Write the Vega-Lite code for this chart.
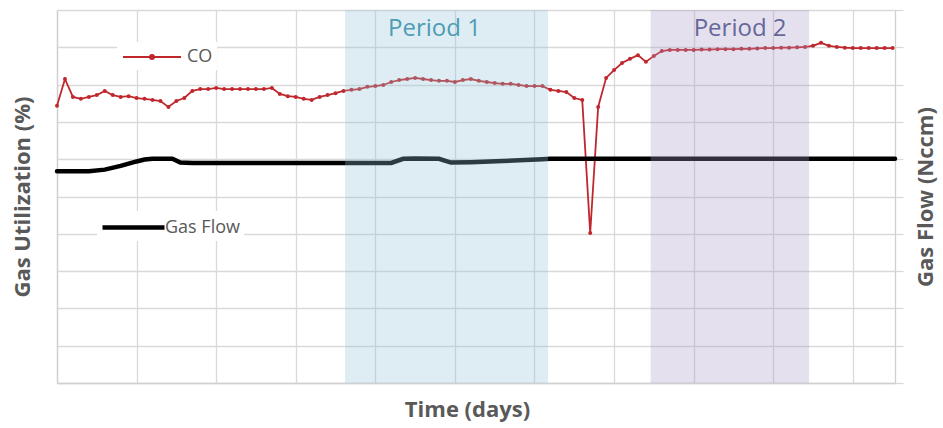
{
  "$schema": "https://vega.github.io/schema/vega-lite/v6.json",
  "width": 838,
  "height": 373,
  "autosize": {"type": "none"},
  "padding": {"left": 57, "top": 10, "right": 48, "bottom": 45},
  "background": "white",
  "config": {
    "view": {"stroke": null},
    "font": "Open Sans",
    "axis": {
      "gridColor": "#d9d9d9",
      "gridWidth": 1.3,
      "domainColor": "#d0d0d0",
      "domainWidth": 1.3,
      "tickColor": "#d9d9d9",
      "tickWidth": 1.3,
      "titleColor": "#595959",
      "titleFont": "Open Sans",
      "titleFontWeight": "bold",
      "titleFontSize": 22
    }
  },
  "datasets": {
    "co": [
      {"day": 0.0, "util": 7.43}, {"day": 0.1, "util": 8.15}, {"day": 0.2, "util": 7.67}, {"day": 0.3, "util": 7.62},
      {"day": 0.4, "util": 7.67}, {"day": 0.5, "util": 7.72}, {"day": 0.6, "util": 7.83}, {"day": 0.7, "util": 7.72},
      {"day": 0.8, "util": 7.67}, {"day": 0.9, "util": 7.69}, {"day": 1.0, "util": 7.64}, {"day": 1.1, "util": 7.62},
      {"day": 1.2, "util": 7.59}, {"day": 1.3, "util": 7.56}, {"day": 1.4, "util": 7.4}, {"day": 1.5, "util": 7.56},
      {"day": 1.6, "util": 7.64}, {"day": 1.7, "util": 7.83}, {"day": 1.8, "util": 7.88}, {"day": 1.9, "util": 7.88},
      {"day": 2.0, "util": 7.91}, {"day": 2.1, "util": 7.88}, {"day": 2.2, "util": 7.88}, {"day": 2.3, "util": 7.88},
      {"day": 2.4, "util": 7.88}, {"day": 2.5, "util": 7.88}, {"day": 2.6, "util": 7.88}, {"day": 2.7, "util": 7.91},
      {"day": 2.8, "util": 7.75}, {"day": 2.9, "util": 7.69}, {"day": 3.0, "util": 7.67}, {"day": 3.1, "util": 7.62},
      {"day": 3.2, "util": 7.59}, {"day": 3.3, "util": 7.67}, {"day": 3.4, "util": 7.72}, {"day": 3.5, "util": 7.77},
      {"day": 3.6, "util": 7.83}, {"day": 3.7, "util": 7.86}, {"day": 3.8, "util": 7.88}, {"day": 3.9, "util": 7.94},
      {"day": 4.0, "util": 7.96}, {"day": 4.1, "util": 7.99}, {"day": 4.2, "util": 8.07}, {"day": 4.3, "util": 8.12},
      {"day": 4.4, "util": 8.15}, {"day": 4.5, "util": 8.18}, {"day": 4.6, "util": 8.15}, {"day": 4.7, "util": 8.12},
      {"day": 4.8, "util": 8.1}, {"day": 4.9, "util": 8.1}, {"day": 5.0, "util": 8.07}, {"day": 5.1, "util": 8.12},
      {"day": 5.2, "util": 8.15}, {"day": 5.3, "util": 8.1}, {"day": 5.4, "util": 8.07}, {"day": 5.5, "util": 8.04},
      {"day": 5.6, "util": 8.02}, {"day": 5.7, "util": 8.02}, {"day": 5.8, "util": 7.99}, {"day": 5.9, "util": 7.96},
      {"day": 6.0, "util": 7.96}, {"day": 6.1, "util": 7.96}, {"day": 6.2, "util": 7.86}, {"day": 6.3, "util": 7.83},
      {"day": 6.4, "util": 7.8}, {"day": 6.5, "util": 7.64}, {"day": 6.6, "util": 7.59}, {"day": 6.7, "util": 4.02},
      {"day": 6.8, "util": 7.4}, {"day": 6.9, "util": 8.18}, {"day": 7.0, "util": 8.39}, {"day": 7.1, "util": 8.58},
      {"day": 7.2, "util": 8.69}, {"day": 7.3, "util": 8.79}, {"day": 7.4, "util": 8.61}, {"day": 7.5, "util": 8.77},
      {"day": 7.6, "util": 8.9}, {"day": 7.7, "util": 8.93}, {"day": 7.8, "util": 8.93}, {"day": 7.9, "util": 8.93},
      {"day": 8.0, "util": 8.93}, {"day": 8.1, "util": 8.94}, {"day": 8.2, "util": 8.94}, {"day": 8.3, "util": 8.95},
      {"day": 8.4, "util": 8.95}, {"day": 8.5, "util": 8.95}, {"day": 8.6, "util": 8.96}, {"day": 8.7, "util": 8.96},
      {"day": 8.8, "util": 8.97}, {"day": 8.9, "util": 8.98}, {"day": 9.0, "util": 8.98}, {"day": 9.1, "util": 8.99},
      {"day": 9.2, "util": 8.99}, {"day": 9.3, "util": 9.0}, {"day": 9.4, "util": 9.01}, {"day": 9.5, "util": 9.04},
      {"day": 9.6, "util": 9.12}, {"day": 9.7, "util": 9.04}, {"day": 9.8, "util": 9.01}, {"day": 9.9, "util": 8.99},
      {"day": 10.0, "util": 8.98}, {"day": 10.1, "util": 8.98}, {"day": 10.2, "util": 8.98}, {"day": 10.3, "util": 8.98},
      {"day": 10.4, "util": 8.98}, {"day": 10.5, "util": 8.98}
    ],
    "flow": [
      {"day": 0.0, "flow": 5.68}, {"day": 0.4, "flow": 5.68}, {"day": 0.6, "flow": 5.72}, {"day": 0.8, "flow": 5.82},
      {"day": 1.0, "flow": 5.94}, {"day": 1.1, "flow": 5.99}, {"day": 1.2, "flow": 6.01}, {"day": 1.45, "flow": 6.01},
      {"day": 1.55, "flow": 5.91}, {"day": 1.7, "flow": 5.9}, {"day": 4.2, "flow": 5.9}, {"day": 4.35, "flow": 6.01},
      {"day": 4.5, "flow": 6.02}, {"day": 4.8, "flow": 6.01}, {"day": 4.95, "flow": 5.91}, {"day": 5.2, "flow": 5.92},
      {"day": 5.6, "flow": 5.95}, {"day": 6.1, "flow": 6.0}, {"day": 6.2, "flow": 6.01}, {"day": 10.53, "flow": 6.01}
    ],
    "periods": [
      {"period": "Period 1", "start": 3.62, "end": 6.17},
      {"period": "Period 2", "start": 7.46, "end": 9.45}
    ]
  },
  "layer": [
    {
      "data": {"name": "co"},
      "mark": {"type": "line", "strokeWidth": 1.8, "point": {"filled": true, "size": 16}},
      "encoding": {
        "x": {"field": "day", "type": "quantitative", "title": "Time (days)",
              "scale": {"domain": [0, 10.53], "nice": false, "zero": false},
              "axis": {"values": [0, 1, 2, 3, 4, 5, 6, 7, 8, 9, 10], "labels": false, "ticks": false, "titlePadding": 16, "titleX": 410}},
        "y": {"field": "util", "type": "quantitative", "title": "Gas Utilization (%)",
              "scale": {"domain": [0, 10], "nice": false, "zero": false},
              "axis": {"values": [0, 1, 2, 3, 4, 5, 6, 7, 8, 9, 10], "labels": false, "ticks": false, "titlePadding": 23}},
        "color": {"datum": "CO", "scale": {"domain": ["CO"], "range": ["#c0272d"]},
                  "legend": {"title": null, "orient": "none", "legendX": 60, "legendY": 32,
                             "symbolType": "M-2.9,0H2.9M-0.2,0A0.2,0.2 0 1,1 0.2,0A0.2,0.2 0 1,1 -0.2,0",
                             "symbolSize": 400, "symbolStrokeWidth": 2, "symbolFillColor": "#c0272d", "symbolOffset": 20,
                             "labelOffset": 24, "labelFontSize": 18, "labelColor": "#595959", "labelFont": "Open Sans",
                             "fillColor": "white", "padding": 4}}
      }
    },
    {
      "data": {"name": "flow"},
      "mark": {"type": "line", "strokeWidth": 4.5, "strokeCap": "round"},
      "encoding": {
        "x": {"field": "day", "type": "quantitative", "title": "Time (days)"},
        "y": {"field": "flow", "type": "quantitative", "title": "Gas Flow (Nccm)",
              "scale": {"domain": [0, 10], "nice": false, "zero": false},
              "axis": {"orient": "right", "values": [0, 1, 2, 3, 4, 5, 6, 7, 8, 9, 10], "labels": false, "grid": false,
                       "ticks": true, "tickSize": 8, "titleAngle": 270, "titlePadding": 34}},
        "color": {"datum": "Gas Flow", "scale": {"domain": ["Gas Flow"], "range": ["#000000"]},
                  "legend": {"title": null, "orient": "none", "legendX": 40, "legendY": 201,
                             "symbolType": "M-3.1,0H3.1", "symbolSize": 400, "symbolStrokeWidth": 4.5, "symbolOffset": 20,
                             "labelOffset": 19, "labelFontSize": 18, "labelColor": "#595959", "labelFont": "Open Sans",
                             "fillColor": "white", "padding": 4}}
      }
    },
    {
      "data": {"name": "periods"},
      "mark": {"type": "rect", "opacity": 0.3},
      "encoding": {
        "x": {"field": "start", "type": "quantitative", "title": "Time (days)"},
        "x2": {"field": "end"},
        "y": {"value": 0},
        "y2": {"value": "height"},
        "fill": {"field": "period", "type": "nominal",
                 "scale": {"domain": ["Period 1", "Period 2"], "range": ["#8ec5d6", "#a898c4"]}, "legend": null}
      }
    },
    {
      "data": {"name": "periods"},
      "mark": {"type": "text", "align": "left", "baseline": "middle", "dx": 43, "fontSize": 24, "font": "Open Sans"},
      "encoding": {
        "x": {"field": "start", "type": "quantitative", "title": "Time (days)"},
        "y": {"value": 19},
        "text": {"field": "period"},
        "color": {"field": "period", "type": "nominal",
                  "scale": {"domain": ["Period 1", "Period 2"], "range": ["#4e9cb3", "#66679a"]}, "legend": null}
      }
    }
  ],
  "resolve": {"scale": {"y": "independent", "color": "independent"}}
}
